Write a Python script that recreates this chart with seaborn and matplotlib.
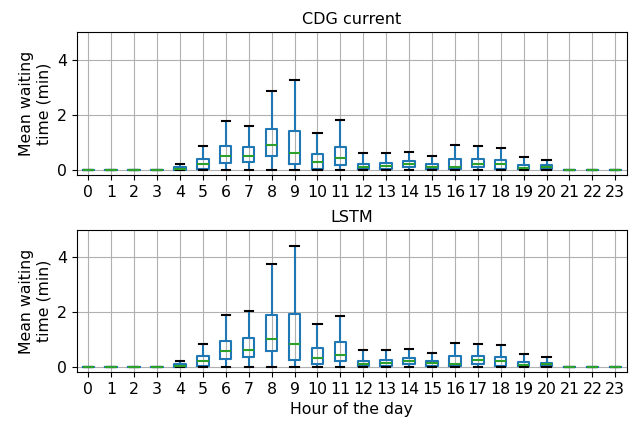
import matplotlib
matplotlib.use("Agg")
import matplotlib.pyplot as plt
import pandas as pd
import seaborn as sns

hours = list(range(24))

# five-number summaries per hour: whisker low, q1, median, q3, whisker high
cdg_lo = [0] * 24
cdg_q1 = [0, 0, 0, 0, 0.00, 0.04, 0.27, 0.30, 0.51, 0.21, 0.05, 0.17, 0.05, 0.04, 0.10, 0.03, 0.03, 0.12, 0.05, 0.03, 0.03, 0, 0, 0]
cdg_med = [0, 0, 0, 0, 0.03, 0.23, 0.52, 0.52, 0.92, 0.63, 0.30, 0.45, 0.12, 0.16, 0.22, 0.13, 0.12, 0.24, 0.21, 0.07, 0.10, 0, 0, 0]
cdg_q3 = [0, 0, 0, 0, 0.10, 0.41, 0.88, 0.84, 1.48, 1.43, 0.58, 0.85, 0.24, 0.25, 0.34, 0.24, 0.40, 0.40, 0.38, 0.19, 0.17, 0, 0, 0]
cdg_hi = [0, 0, 0, 0, 0.22, 0.86, 1.78, 1.61, 2.88, 3.25, 1.36, 1.82, 0.61, 0.61, 0.67, 0.52, 0.91, 0.86, 0.82, 0.47, 0.38, 0, 0, 0]

lstm_lo = [0] * 24
lstm_q1 = [0, 0, 0, 0, 0.00, 0.05, 0.30, 0.36, 0.59, 0.27, 0.09, 0.21, 0.05, 0.04, 0.10, 0.03, 0.03, 0.12, 0.05, 0.03, 0.03, 0, 0, 0]
lstm_med = [0, 0, 0, 0, 0.03, 0.22, 0.58, 0.63, 1.03, 0.85, 0.32, 0.44, 0.10, 0.15, 0.21, 0.13, 0.12, 0.24, 0.20, 0.07, 0.09, 0, 0, 0]
lstm_q3 = [0, 0, 0, 0, 0.10, 0.38, 0.95, 1.05, 1.89, 1.94, 0.68, 0.90, 0.23, 0.24, 0.33, 0.23, 0.39, 0.40, 0.37, 0.18, 0.16, 0, 0, 0]
lstm_hi = [0, 0, 0, 0, 0.22, 0.85, 1.91, 2.05, 3.77, 4.41, 1.57, 1.86, 0.60, 0.60, 0.66, 0.52, 0.87, 0.83, 0.80, 0.46, 0.37, 0, 0, 0]


def long_frame(lo, q1, med, q3, hi):
    rows = []
    for h, vals in zip(hours, zip(lo, q1, med, q3, hi)):
        for v in vals:
            rows.append({"hour": h, "wait": v})
    return pd.DataFrame(rows)


panels = [
    ("CDG current", long_frame(cdg_lo, cdg_q1, cdg_med, cdg_q3, cdg_hi)),
    ("LSTM", long_frame(lstm_lo, lstm_q1, lstm_med, lstm_q3, lstm_hi)),
]

plt.rcParams["font.size"] = 11.3
fig = plt.figure(figsize=(6.35, 4.23), dpi=100)
ax_top = fig.add_axes([0.121, 0.586, 0.866, 0.338])
ax_bot = fig.add_axes([0.121, 0.121, 0.866, 0.335])

for ax, (title, df) in zip([ax_top, ax_bot], panels):
    sns.boxplot(
        data=df, x="hour", y="wait", ax=ax,
        whis=(0, 100), showfliers=False, width=0.5, fill=False,
        color="C0", linewidth=1.5, capwidths=0.36,
        medianprops={"color": "C2", "linewidth": 1.5},
        capprops={"color": "black", "linewidth": 1.5},
        whiskerprops={"color": "C0", "linewidth": 1.5},
    )
    ax.set_ylim(-0.18, 5)
    ax.set_yticks([0, 2, 4])
    ax.grid(True, color="#b0b0b0", linewidth=0.8)
    ax.set_axisbelow(True)
    ax.set_title(title, fontsize=11.5)
    ax.set_ylabel("Mean waiting\ntime (min)")
    ax.set_xlabel("")

ax_bot.set_xlabel("Hour of the day")

fig.savefig("out.png", dpi=100)
